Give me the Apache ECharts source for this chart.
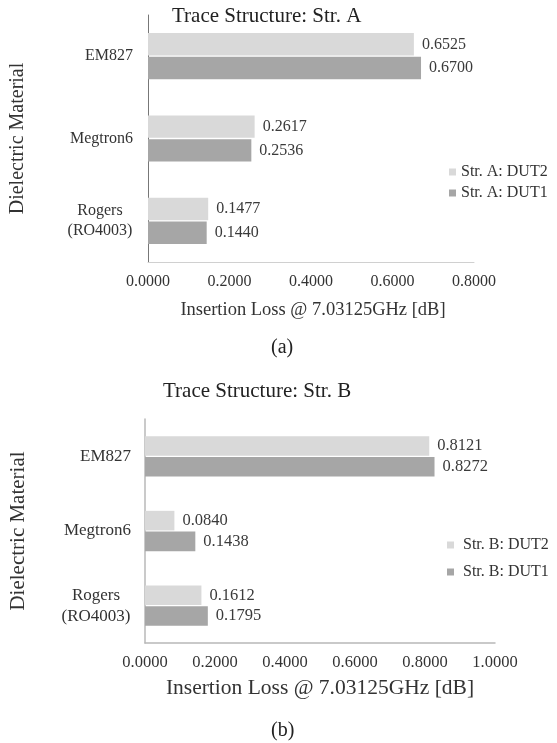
<!DOCTYPE html>
<html>
<head>
<meta charset="utf-8">
<script src="https://cdn.jsdelivr.net/npm/echarts@6/dist/echarts.min.js"></script>
<style>html,body{margin:0;padding:0;background:#fff;}#c{width:557px;height:743px;}</style>
</head>
<body>
<div id="c"></div>
<script>
var categories = ['EM827', 'Megtron6', 'Rogers\n(RO4003)'];
var xTicksA = [0, 0.2, 0.4, 0.6, 0.8];
var xTicksB = [0, 0.2, 0.4, 0.6, 0.8, 1.0];
var strA_DUT2 = [0.6525, 0.2617, 0.1477];
var strA_DUT1 = [0.6700, 0.2536, 0.1440];
var strB_DUT2 = [0.8121, 0.0840, 0.1612];
var strB_DUT1 = [0.8272, 0.1438, 0.1795];

var FONT = '"Liberation Serif", "Times New Roman", serif';
var LIGHT = '#d9d9d9', DARK = '#a6a6a6';
var chart = echarts.init(document.getElementById('c'), null, {renderer: 'canvas'});

function fmt(v) { return Number(v).toFixed(4); }
function lbl(size) {
  return {show: true, position: 'right', distance: 8, fontFamily: FONT, fontSize: size, color: '#3a3a3a',
    formatter: function (p) { return fmt(p.value); }};
}
function catFmt(v) {
  if (v.indexOf('\n') < 0) return v;
  return v.split('\n').map(function (s) { return '{c|' + s + '}'; }).join('\n');
}
function catLabel(size, lh, margin, w) {
  return {margin: margin, fontFamily: FONT, fontSize: size, color: '#333', lineHeight: lh, align: 'right',
    formatter: catFmt,
    rich: {c: {width: w, align: 'center', fontFamily: FONT, fontSize: size, color: '#333', lineHeight: lh}}};
}

var option = {
  backgroundColor: '#fff',
  animation: false,
  title: [
    {text: 'Trace Structure: Str. A', left: 172, top: 6, padding: 0, textStyle: {fontFamily: FONT, fontSize: 21, fontWeight: 'normal', color: '#222'}},
    {text: 'Trace Structure: Str. B', left: 163, top: 381, padding: 0, textStyle: {fontFamily: FONT, fontSize: 21, fontWeight: 'normal', color: '#222'}},
    {text: '(a)', left: 271, top: 338, padding: 0, textStyle: {fontFamily: FONT, fontSize: 20, fontWeight: 'normal', color: '#222'}},
    {text: '(b)', left: 271, top: 721, padding: 0, textStyle: {fontFamily: FONT, fontSize: 20, fontWeight: 'normal', color: '#222'}}
  ],
  legend: [
    {data: ['Str. A: DUT2', 'Str. A: DUT1'], orient: 'vertical', left: 449, top: 164, padding: 0, itemGap: 5,
     icon: 'rect', itemWidth: 7, itemHeight: 7,
     textStyle: {fontFamily: FONT, fontSize: 16, color: '#333', lineHeight: 16}},
    {data: ['Str. B: DUT2', 'Str. B: DUT1'], orient: 'vertical', left: 447, top: 537, padding: 0, itemGap: 11,
     icon: 'rect', itemWidth: 7, itemHeight: 7,
     textStyle: {fontFamily: FONT, fontSize: 16, color: '#333', lineHeight: 16, padding: [0, 0, 0, 4]}}
  ],
  grid: [
    {left: 126, top: 15, width: 348, height: 247, containLabel: false},
    {left: 120, top: 419, width: 375, height: 224, containLabel: false}
  ],
  xAxis: [
    {gridIndex: 0, type: 'value', min: xTicksA[0], max: xTicksA[xTicksA.length - 1], interval: 0.2,
     splitLine: {show: false}, axisTick: {show: false},
     axisLine: {show: true, lineStyle: {color: '#d0d0d0', width: 1}},
     axisLabel: {margin: 12, fontFamily: FONT, fontSize: 16, color: '#333', formatter: fmt},
     name: 'Insertion Loss @ 7.03125GHz [dB]', nameLocation: 'middle', nameGap: 39,
     nameTextStyle: {fontFamily: FONT, fontSize: 18.5, color: '#333', padding: [0, 0, 0, 4]}},
    {gridIndex: 1, type: 'value', min: xTicksB[0], max: xTicksB[xTicksB.length - 1], interval: 0.2,
     splitLine: {show: false}, axisTick: {show: false},
     axisLine: {show: true, lineStyle: {color: '#b8b8b8', width: 1.5}},
     axisLabel: {margin: 11, fontFamily: FONT, fontSize: 16.5, color: '#333', formatter: fmt},
     name: 'Insertion Loss @ 7.03125GHz [dB]', nameLocation: 'middle', nameGap: 34,
     nameTextStyle: {fontFamily: FONT, fontSize: 21.5, color: '#333'}}
  ],
  yAxis: [
    {gridIndex: 0, type: 'category', inverse: true, data: categories,
     axisTick: {show: false}, axisLine: {show: true, lineStyle: {color: '#777', width: 1}},
     axisLabel: catLabel(16, 20, 15, 66),
     name: 'Dielectric Material', nameLocation: 'middle', nameRotate: 90, nameGap: 120,
     nameTextStyle: {fontFamily: FONT, fontSize: 20, color: '#333'}},
    {gridIndex: 1, type: 'category', inverse: true, data: categories,
     axisTick: {show: false}, axisLine: {show: true, lineStyle: {color: '#b8b8b8', width: 1.5}},
     axisLabel: catLabel(17, 21, 14, 70),
     name: 'Dielectric Material', nameLocation: 'middle', nameRotate: 90, nameGap: 116,
     nameTextStyle: {fontFamily: FONT, fontSize: 21, color: '#333'}}
  ],
  series: [
    {name: 'Str. A: DUT2', type: 'bar', xAxisIndex: 0, yAxisIndex: 0, data: strA_DUT2,
     itemStyle: {color: LIGHT}, barGap: '6%', barCategoryGap: '44%', label: lbl(16)},
    {name: 'Str. A: DUT1', type: 'bar', xAxisIndex: 0, yAxisIndex: 0, data: strA_DUT1,
     itemStyle: {color: DARK}, barGap: '6%', barCategoryGap: '44%', label: lbl(16)},
    {name: 'Str. B: DUT2', type: 'bar', xAxisIndex: 1, yAxisIndex: 1, data: strB_DUT2,
     itemStyle: {color: LIGHT}, barGap: '6%', barCategoryGap: '46%', label: lbl(16.5)},
    {name: 'Str. B: DUT1', type: 'bar', xAxisIndex: 1, yAxisIndex: 1, data: strB_DUT1,
     itemStyle: {color: DARK}, barGap: '6%', barCategoryGap: '46%', label: lbl(16.5)}
  ]
};
chart.setOption(option);
</script>
</body>
</html>
